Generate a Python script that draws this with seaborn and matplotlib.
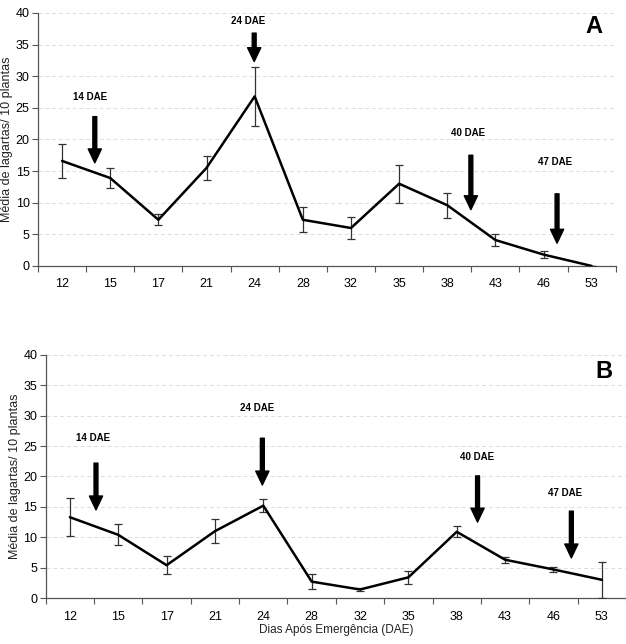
import numpy as np
import matplotlib
matplotlib.use("Agg")
import matplotlib.pyplot as plt
import seaborn as sns

# Dados
dias = ["12", "15", "17", "21", "24", "28", "32", "35", "38", "43", "46", "53"]
media_a = [16.6, 13.9, 7.3, 15.5, 26.8, 7.3, 6.0, 13.0, 9.6, 4.1, 1.8, 0.0]
erro_a = [2.7, 1.6, 0.9, 1.9, 4.6, 2.0, 1.8, 3.0, 2.0, 0.9, 0.6, 0.0]
media_b = [13.3, 10.4, 5.4, 11.0, 15.2, 2.7, 1.4, 3.4, 10.9, 6.3, 4.7, 3.0]
erro_b = [3.1, 1.7, 1.5, 2.0, 1.1, 1.2, 0.3, 1.1, 0.9, 0.5, 0.45, 3.0]

# Setas de aplicação: rótulo, posição x, topo, ponta, altura do texto, x do texto
setas_rotulos = ["14 DAE", "24 DAE", "40 DAE", "47 DAE"]
setas_a_x = [0.68, 3.99, 8.49, 10.28]
setas_a_topo = [23.6, 36.8, 17.5, 11.4]
setas_a_ponta = [16.3, 32.3, 8.9, 3.6]
setas_a_texto_y = [26.7, 38.7, 21.0, 16.4]
setas_a_texto_x = [0.58, 3.87, 8.43, 10.23]
setas_b_x = [0.54, 3.98, 8.43, 10.37]
setas_b_topo = [22.2, 26.3, 20.1, 14.3]
setas_b_ponta = [14.5, 18.6, 12.5, 6.6]
setas_b_texto_y = [26.3, 31.2, 23.2, 17.3]
setas_b_texto_x = [0.48, 3.88, 8.43, 10.23]

sns.set_style("white")
plt.rcParams["font.family"] = ["Liberation Sans", "DejaVu Sans"]
plt.rcParams["text.color"] = "black"
plt.rcParams["axes.labelcolor"] = "#222222"
plt.rcParams["xtick.color"] = "#555555"
plt.rcParams["ytick.color"] = "#555555"
plt.rcParams["xtick.labelcolor"] = "black"
plt.rcParams["ytick.labelcolor"] = "black"

fig = plt.figure(figsize=(6.26, 6.44), dpi=100)
ax_a = fig.add_axes([0.0607, 0.587, 0.923, 0.393])
ax_b = fig.add_axes([0.073, 0.0714, 0.927, 0.3774])


def desenha(ax, media, erro, sx, stopo, sponta, ty, tx, letra, letra_y):
    x = np.arange(len(dias))
    ax.errorbar(x, media, yerr=erro, fmt="none", ecolor="#333333",
                elinewidth=0.9, capsize=3, capthick=0.9, zorder=3)
    sns.lineplot(x=x, y=media, ax=ax, color="black", linewidth=1.8, zorder=4)
    ax.set_xlim(-0.5, len(dias) - 0.5)
    ax.set_ylim(0, 40)
    ax.set_yticks(range(0, 41, 5))
    ax.set_xticks(x)
    ax.set_xticklabels(dias)
    ax.set_xticks(np.arange(-0.5, len(dias), 1), minor=True)
    ax.tick_params(axis="x", which="major", length=0, pad=9, labelsize=9)
    ax.tick_params(axis="x", which="minor", length=4, width=0.8,
                   direction="out", bottom=True)
    ax.tick_params(axis="y", length=4, width=0.8, labelsize=9,
                   direction="out", left=True, pad=2)
    ax.grid(axis="y", linestyle=(0, (4, 3)), color="#dddddd", linewidth=0.7)
    for s in ["top", "right"]:
        ax.spines[s].set_visible(False)
    for s in ["left", "bottom"]:
        ax.spines[s].set_color("#555555")
        ax.spines[s].set_linewidth(0.9)
    ax.set_ylabel("Média de lagartas/ 10 plantas", fontsize=9, labelpad=2)
    for rot, xa, yt, yp, yy, xx in zip(setas_rotulos, sx, stopo, sponta, ty, tx):
        ax.annotate("", xy=(xa, yp), xytext=(xa, yt),
                    arrowprops=dict(facecolor="black", edgecolor="black",
                                    width=2.8, headwidth=9.5, headlength=10))
        ax.text(xx, yy, rot, ha="center", va="center", fontsize=7,
                fontweight="bold")
    ax.text(11.05, letra_y, letra, ha="center", va="center", fontsize=17,
            fontweight="bold")


desenha(ax_a, media_a, erro_a, setas_a_x, setas_a_topo, setas_a_ponta,
        setas_a_texto_y, setas_a_texto_x, "A", 37.8)
desenha(ax_b, media_b, erro_b, setas_b_x, setas_b_topo, setas_b_ponta,
        setas_b_texto_y, setas_b_texto_x, "B", 37.3)
ax_b.set_xlabel("Dias Após Emergência (DAE)", fontsize=8.5, labelpad=1)

fig.savefig("out.png", dpi=100)
